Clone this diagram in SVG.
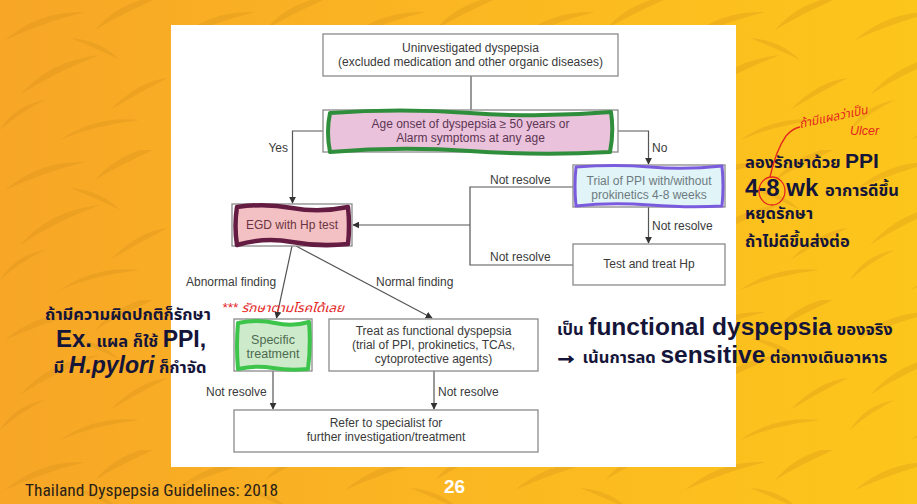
<svg xmlns="http://www.w3.org/2000/svg" width="917" height="504" viewBox="0 0 917 504">
  <defs>
    <linearGradient id="bg" x1="0" y1="0" x2="1" y2="0">
      <stop offset="0" stop-color="#F7A626"/>
      <stop offset="0.5" stop-color="#FBB722"/>
      <stop offset="1" stop-color="#FDC61B"/>
    </linearGradient>
    <pattern id="stripes" width="170" height="150" patternUnits="userSpaceOnUse">
      <g fill="#C98512" opacity="0.24">
        <path d="M5,40 Q40,10 85,12 Q45,22 5,40 Z"/>
        <path d="M20,95 Q50,60 100,55 Q55,72 20,95 Z"/>
        <path d="M95,30 Q120,0 165,-5 Q125,12 95,30 Z"/>
        <path d="M110,110 Q140,80 168,78 Q140,92 110,110 Z"/>
        <path d="M60,140 Q95,115 140,120 Q95,125 60,140 Z"/>
        <path d="M0,130 Q15,105 45,100 Q20,112 0,130 Z"/>
        <path d="M120,60 Q100,40 70,38 Q100,50 120,60 Z"/>
      </g>
    </pattern>
    <marker id="arrow" viewBox="0 0 10 10" refX="9" refY="5" markerWidth="7" markerHeight="7" orient="auto-start-reverse" markerUnits="userSpaceOnUse">
      <path d="M0,0 L10,5 L0,10 Z" fill="#333"/>
    </marker>
    <style>
      .box { fill: #fff; stroke: #8a8a8a; stroke-width: 1.3; }
      .t { font-family: "Liberation Sans", Arial, sans-serif; font-size: 12px; fill: #3a3a3a; text-anchor: middle; }
      .lbl { font-family: "Liberation Sans", Arial, sans-serif; font-size: 12px; fill: #3a3a3a; }
      .conn { fill: none; stroke: #555; stroke-width: 1.2; }
      .note { font-family: "Liberation Sans", "Noto Sans Thai", "Noto Sans", "DejaVu Sans", sans-serif; font-weight: bold; fill: #15153a; }
      .th { font-size: 16.5px; }
      .hand { font-family: "Liberation Sans", "Noto Sans Thai", "DejaVu Sans", sans-serif; font-style: italic; fill: #E3261F; }
    </style>
  </defs>

  <!-- slide background -->
  <rect width="917" height="504" fill="url(#bg)"/>
  <rect width="917" height="504" fill="url(#stripes)"/>

  <!-- white flowchart panel -->
  <rect x="171" y="25" width="565" height="442" fill="#fff"/>

  <!-- connectors -->
  <g id="connectors">
    <path class="conn" d="M471,76 V110"/>
    <path class="conn" d="M323,131 H292.5 V203" marker-end="url(#arrow)"/>
    <path class="conn" d="M618,131 H648.5 V164" marker-end="url(#arrow)"/>
    <path class="conn" d="M573,187 H470 V265 H573"/>
    <path class="conn" d="M470,225 H353" marker-end="url(#arrow)"/>
    <path class="conn" d="M648.5,207 V243" marker-end="url(#arrow)"/>
    <path class="conn" d="M292,246 L276.5,318" marker-end="url(#arrow)"/>
    <path class="conn" d="M296,246 L432,318" marker-end="url(#arrow)"/>
    <path class="conn" d="M273,371 V409" marker-end="url(#arrow)"/>
    <path class="conn" d="M434,371 V409" marker-end="url(#arrow)"/>
    <text class="lbl" x="288" y="152" text-anchor="end">Yes</text>
    <text class="lbl" x="652" y="152">No</text>
    <text class="lbl" x="490" y="184">Not resolve</text>
    <text class="lbl" x="490" y="261">Not resolve</text>
    <text class="lbl" x="652" y="230">Not resolve</text>
    <text class="lbl" x="186" y="286">Abnormal finding</text>
    <text class="lbl" x="376" y="286">Normal finding</text>
    <text class="lbl" x="206" y="396">Not resolve</text>
    <text class="lbl" x="438" y="396">Not resolve</text>
  </g>

  <g id="uninvestigated">
    <rect class="box" x="323" y="34" width="295" height="42"/>
    <text class="t" x="470.5" y="52">Uninvestigated dyspepsia</text>
    <text class="t" x="470.5" y="66">(excluded medication and other organic diseases)</text>
  </g>

  <g id="age-onset">
    <rect class="box" x="323" y="110" width="295" height="42"/>
    <path d="M330,113 Q400,108 470,113 T611,112 Q614,132 610,152 Q540,156 470,151 T330,152 Q326,132 330,113 Z" fill="#EAC2DC" stroke="#2F8E3B" stroke-width="4" stroke-linejoin="round"/>
    <text class="t" x="470.5" y="128" style="fill:#5c3552">Age onset of dyspepsia ≥ 50 years or</text>
    <text class="t" x="470.5" y="142" style="fill:#5c3552">Alarm symptoms at any age</text>
  </g>

  <g id="trial-ppi">
    <rect class="box" x="573" y="165" width="152" height="42"/>
    <path d="M576,167 Q615,164 650,167 T722,166 Q724,186 722,206 Q690,208 650,205 T576,206 Q574,186 576,167 Z" fill="#E1F4F8" stroke="#7A5BDE" stroke-width="3" stroke-linejoin="round"/>
    <text class="t" x="649" y="185" style="fill:#6d7b80">Trial of PPI with/without</text>
    <text class="t" x="649" y="199" style="fill:#6d7b80">prokinetics 4-8 weeks</text>
  </g>

  <g id="egd">
    <rect class="box" x="232" y="204" width="120" height="42"/>
    <path d="M237,207 Q265,203 292,208 T348,207 Q350,226 348,244 Q320,247 292,242 T237,245 Q234,226 237,207 Z" fill="#F3C1C3" stroke="#651C43" stroke-width="4.5" stroke-linejoin="round"/>
    <text class="t" x="292" y="229" style="fill:#6b3442">EGD with Hp test</text>
  </g>

  <g id="test-treat-hp">
    <rect class="box" x="573" y="244" width="152" height="41"/>
    <text class="t" x="649" y="268">Test and treat Hp</text>
  </g>

  <g id="specific-treatment">
    <rect class="box" x="234" y="319" width="78" height="52"/>
    <path d="M238,323 Q258,319 275,323 T309,322 Q311,346 308,369 Q290,371 273,368 T238,369 Q236,346 238,323 Z" fill="#CDEACB" stroke="#3CC44B" stroke-width="4" stroke-linejoin="round"/>
    <text class="t" x="273" y="344" style="fill:#4d6a50;font-size:12.5px">Specific</text>
    <text class="t" x="273" y="358" style="fill:#4d6a50;font-size:12.5px">treatment</text>
  </g>

  <g id="functional-treat">
    <rect class="box" x="329" y="319" width="209" height="52"/>
    <text class="t" x="433.5" y="335">Treat as functional dyspepsia</text>
    <text class="t" x="433.5" y="349">(trial of PPI, prokinetics, TCAs,</text>
    <text class="t" x="433.5" y="363">cytoprotective agents)</text>
  </g>

  <g id="refer">
    <rect class="box" x="234" y="410" width="304" height="42"/>
    <text class="t" x="386" y="427">Refer to specialist for</text>
    <text class="t" x="386" y="441">further investigation/treatment</text>
  </g>

  <!-- side notes -->
  <g id="note-ppi-trial">
    <text class="note" x="745" y="168"><tspan class="th">ลองรักษาด้วย </tspan><tspan font-size="21">PPI</tspan></text>
    <text class="note" x="745" y="196"><tspan font-size="24">4-8 wk </tspan><tspan class="th">อาการดีขึ้น</tspan></text>
    <text class="note th" x="745" y="219">หยุดรักษา</text>
    <text class="note th" x="745" y="247">ถ้าไม่ดีขึ้นส่งต่อ</text>
  </g>

  <g id="note-abnormal">
    <text class="note th" x="128" y="320" text-anchor="middle">ถ้ามีความผิดปกติก็รักษา</text>
    <text class="note" x="131" y="347" text-anchor="middle"><tspan font-size="24">Ex.</tspan><tspan class="th"> แผล ก็ใช้ </tspan><tspan font-size="23">PPI,</tspan></text>
    <text class="note" x="130" y="373" text-anchor="middle"><tspan class="th">มี </tspan><tspan font-size="23" font-style="italic">H.pylori</tspan><tspan class="th"> ก็กำจัด</tspan></text>
  </g>

  <g id="note-functional">
    <text class="note" x="557" y="335"><tspan class="th">เป็น </tspan><tspan font-size="24.5">functional dyspepsia</tspan><tspan class="th"> ของจริง</tspan></text>
    <text class="note" x="554" y="363"><tspan font-size="24" stroke="#15153a" stroke-width="1.3">→</tspan><tspan class="th"> เน้นการลด </tspan><tspan font-size="24.5">sensitive</tspan><tspan class="th"> ต่อทางเดินอาหาร</tspan></text>
  </g>

  <!-- red pen marks -->
  <g id="pen-marks">
    <text class="hand" x="222" y="312" font-size="12" textLength="122" lengthAdjust="spacingAndGlyphs">*** รักษาตามโรคได้เลย</text>
    <ellipse cx="772" cy="191" rx="13" ry="14" fill="none" stroke="#E3261F" stroke-width="1.3"/>
    <path d="M770,177 Q776,150 786,136 Q793,128 800,127" fill="none" stroke="#E3261F" stroke-width="1.3"/>
    <text class="hand" x="800" y="128" font-size="12" transform="rotate(-12 800 128)">ถ้ามีแผลว่าเป็น</text>
    <text class="hand" x="850" y="135" font-size="12.5">Ulcer</text>
  </g>

  <!-- footer -->
  <text x="25" y="496" font-family="'Liberation Sans Narrow', 'Roboto Condensed', 'Liberation Sans', sans-serif" font-size="16" fill="#2a2218" textLength="253" lengthAdjust="spacingAndGlyphs">Thailand Dyspepsia Guidelines: 2018</text>
  <text x="454.5" y="493" font-family="'Liberation Sans', Arial, sans-serif" font-size="19" font-weight="bold" fill="#fff" text-anchor="middle">26</text>
</svg>
